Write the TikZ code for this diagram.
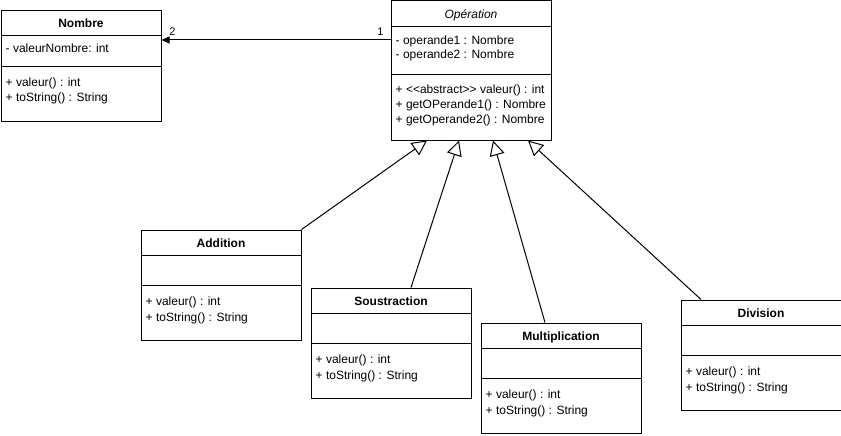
\documentclass[tikz,border=0pt]{standalone}
\usepackage{fontspec}
\setmainfont{Liberation Sans}
\usetikzlibrary{arrows.meta,calc}

\tikzset{
  classbox/.style={draw, line width=1pt, fill=white, inner sep=0pt,
    anchor=north west, minimum width=160pt, minimum height=110pt},
  rule/.style={line width=1pt},
  clstitle/.style={anchor=base, inner sep=0pt, font=\bfseries\fontsize{12}{14}\selectfont},
  abstitle/.style={anchor=base, inner sep=0pt, font=\itshape\fontsize{12}{14}\selectfont},
  mtext/.style={anchor=base west, inner sep=0pt, font=\fontsize{12}{14}\selectfont},
  lbl/.style={inner sep=0pt, font=\fontsize{11}{13}\selectfont},
  gen/.style={line width=1pt, -{Triangle[length=15pt, width=15pt, fill=white]}},
  assoc/.style={line width=1pt, -{Triangle[length=8pt, width=7pt]}},
}

% one concrete subclass of Operation: name, left, top, title
\newcommand\opclass[4]{%
  \node[classbox] (#1) at (#2,#3) {};
  \draw[rule] ($(#1.north west)+(0,26)$) -- ($(#1.north east)+(0,26)$);
  \draw[rule] ($(#1.north west)+(0,56)$) -- ($(#1.north east)+(0,56)$);
  \node[clstitle] at ($(#1.north)+(0,17.5)$) {#4};
  \node[mtext] at ($(#1.north west)+(5,75.5)$) {+ valeur() : int};
  \node[mtext] at ($(#1.north west)+(5,91.5)$) {+ toString() : String};
}

\begin{document}
\begin{tikzpicture}[x=1pt,y=-1pt]
\useasboundingbox (0,0) rectangle (841,436);

% Nombre
\node[classbox] (nombre) at (0.5,10.5) {};
\draw[rule] ($(nombre.north west)+(0,25.5)$) -- ($(nombre.north east)+(0,25.5)$);
\draw[rule] ($(nombre.north west)+(0,56)$) -- ($(nombre.north east)+(0,56)$);
\node[clstitle] at ($(nombre.north)+(0,17.5)$) {Nombre};
\node[mtext] at ($(nombre.north west)+(5,42)$) {- valeurNombre: int};
\node[mtext] at ($(nombre.north west)+(5,75.5)$) {+ valeur() : int};
\node[mtext] at ($(nombre.north west)+(5,91.5)$) {+ toString() : String};

% Operation (abstract)
\node[classbox, minimum height=139pt] (operation) at (390.5,0.5) {};
\draw[rule] ($(operation.north west)+(0,26.5)$) -- ($(operation.north east)+(0,26.5)$);
\draw[rule] ($(operation.north west)+(0,74.5)$) -- ($(operation.north east)+(0,74.5)$);
\node[abstitle] at ($(operation.north)+(0,18)$) {Opération};
\node[mtext] at ($(operation.north west)+(5,44)$) {- operande1 : Nombre};
\node[mtext] at ($(operation.north west)+(5,58)$) {- operande2 : Nombre};
\node[mtext] at ($(operation.north west)+(5,93.5)$) {+ <{}<abstract>{}> valeur() : int};
\node[mtext] at ($(operation.north west)+(5,108.5)$) {+ getOPerande1() : Nombre};
\node[mtext] at ($(operation.north west)+(5,123.5)$) {+ getOperande2() : Nombre};

% concrete operations
\opclass{addition}{140.5}{229.5}{Addition}
\opclass{soustraction}{310.5}{287.5}{Soustraction}
\opclass{multiplication}{480.5}{322.5}{Multiplication}
\opclass{division}{680.5}{299.5}{Division}

% association Operation -> Nombre
\draw[assoc] ($(operation.north west)+(0,39.5)$) -- ($(nombre.north east)+(0,29.5)$);
\node[lbl, anchor=base] at ($(nombre.north east)+(11,25)$) {2};
\node[lbl, anchor=base] at ($(operation.north west)+(-10,35)$) {1};

% generalizations
\draw[gen] (addition.north east) -- ($(operation.south west)+(36.5,0)$);
\draw[gen] ($(soustraction.north west)+(100.5,0)$) -- ($(operation.south west)+(68.5,0)$);
\draw[gen] ($(multiplication.north west)+(64.5,0)$) -- ($(operation.south west)+(102.5,0)$);
\draw[gen] ($(division.north west)+(20.5,0)$) -- ($(operation.south west)+(137.5,0)$);
\end{tikzpicture}
\end{document}
